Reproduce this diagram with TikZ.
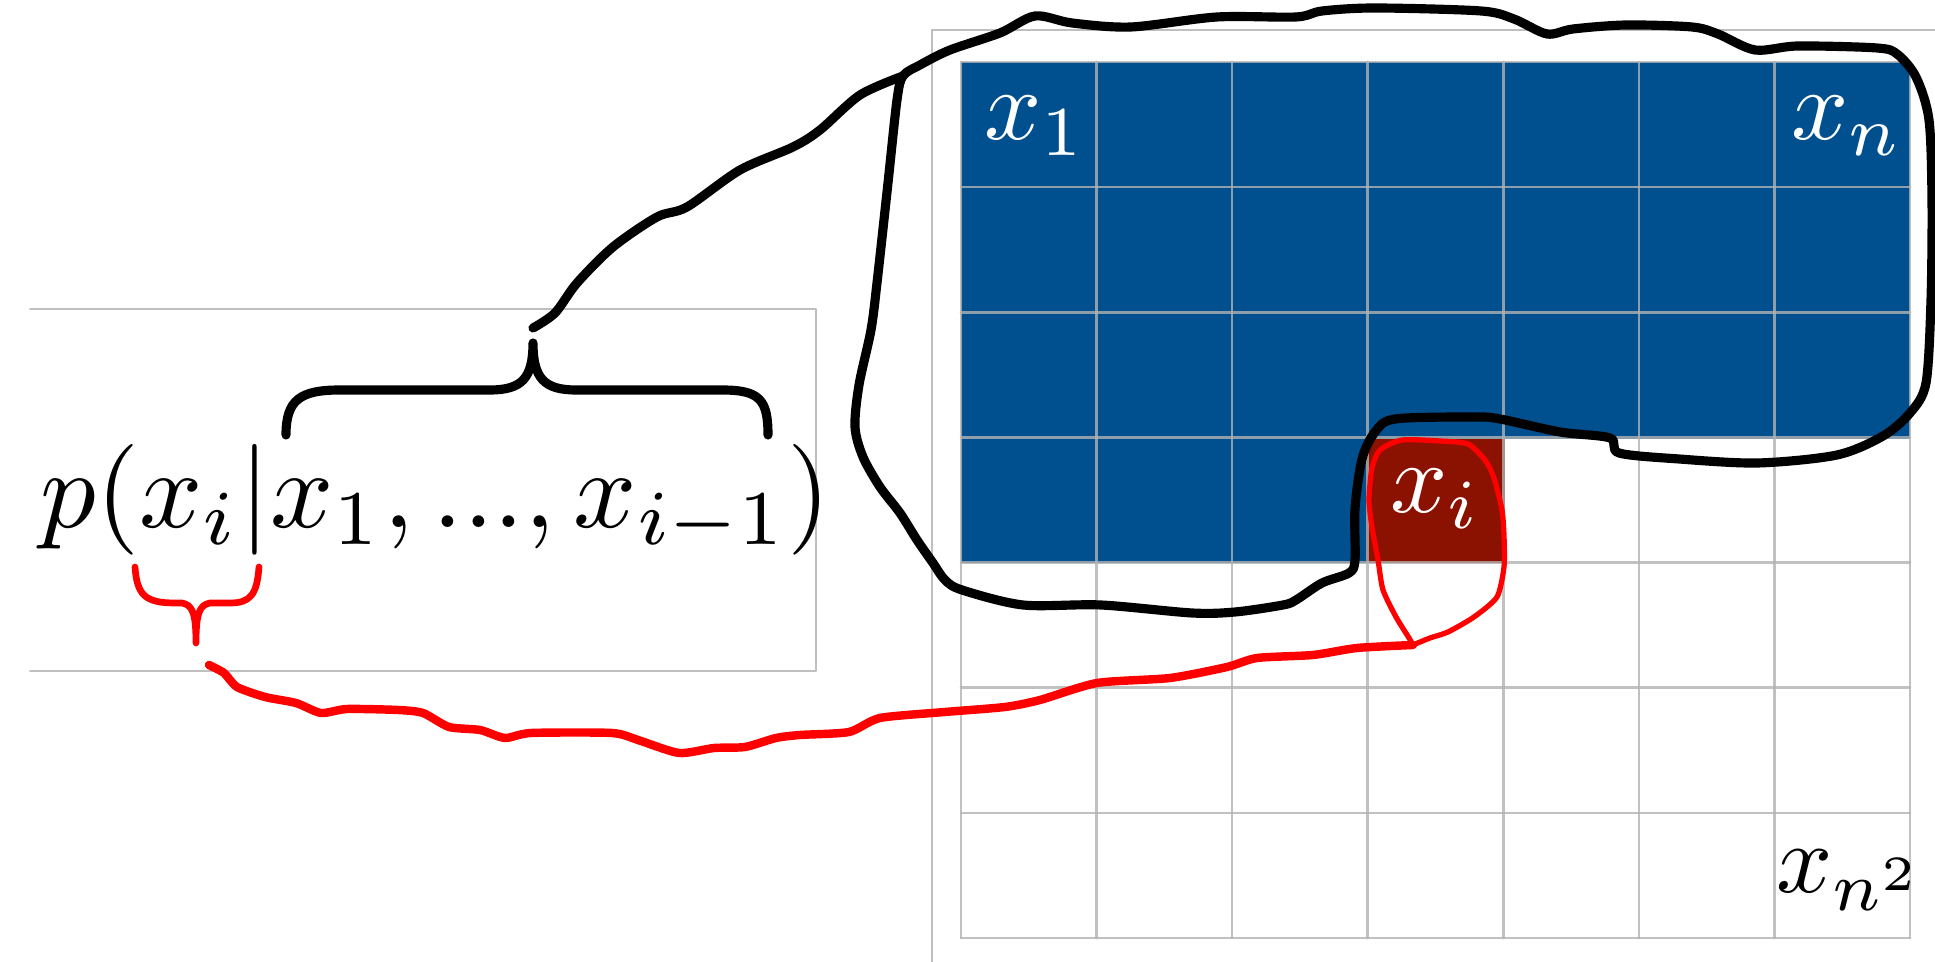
\documentclass[tikz,border=0pt]{standalone}
\usepackage{amsmath,amssymb}
\usepackage{xcolor}
\usetikzlibrary{positioning,calc}
\definecolor{cellblue}{RGB}{0,80,143}
\definecolor{cellred}{RGB}{139,17,0}
\definecolor{sketchred}{RGB}{255,0,0}

\begin{document}
\begin{tikzpicture}[x=0.01cm,y=-0.01cm,line join=round,line cap=round,
  frame/.style={draw=black!25,line width=0.45pt},
  gridline/.style={draw=black!30,opacity=.8,line width=0.75pt},
  pen/.style={draw=black,line width=2.6pt},
  redpen/.style={draw=sketchred,line width=2.4pt},
  thinpen/.style={draw=sketchred,line width=1.5pt},
  big/.style={inner sep=0pt},
  lbl/.style={inner sep=0pt,text=white}]
\useasboundingbox (0,0) rectangle (1935,962);
\draw[frame] (30,309) -- (816,309) -- (816,671) -- (30,671);
\draw[frame] (932,962) -- (932,30) -- (1935,30);
\fill[cellblue] (961,62) rectangle (1910,439);
\fill[cellblue] (961,439) rectangle (1367,563);
\fill[cellred] (1367,439) rectangle (1505,563);
\foreach \c in {0,...,7}
  \draw[gridline] ({961+135.57*\c},62) -- ({961+135.57*\c},938);
\foreach \r in {0,...,7}
  \draw[gridline] (961,{62+125.14*\r}) -- (1910,{62+125.14*\r});
\node[lbl,anchor=base west] (x1) at (984,140) {\scalebox{2.85}{$x_1$}};
\node[lbl,anchor=base west] (xn) at (1791,140) {\scalebox{2.85}{$x_n$}};
\node[lbl,anchor=base west] (xi) at (1390,513) {\scalebox{2.85}{$x_i$}};
\node[lbl,anchor=base west,text=black] (xnn) at (1776,893) {\scalebox{2.8}{$x_{n^2}$}};
\node[big,anchor=base west] (prob) at (40,528) {\scalebox{3.15}{$p(x_i|x_1,...,x_{i-1})$}};
\coordinate (ctip) at (533,343);
\coordinate (ctail) at (533,328);
\coordinate (loopjoin) at (903,76);
\coordinate (rtip) at (196,643);
\coordinate (rtail) at (209,665);
\coordinate (xiv) at (1413,645);
\draw[pen] (286,435) .. controls (286,400) and (300,390) .. (340,390) -- (490,390)
  .. controls (522,390) and (533,378) .. (ctip)
  .. controls (533,378) and (544,390) .. (576,390) -- (722,390)
  .. controls (760,390) and (768,400) .. (768,435);
\draw[pen] plot[smooth,tension=.5] coordinates {(ctail) (555,313) (577,283) (613,247)
  (657,217) (687,207) (740,170) (793,147) (820,130) (860,95) (loopjoin)};
\draw[pen] plot[smooth cycle,tension=.5] coordinates {(loopjoin) (920,65) (950,50)
  (1000,33) (1035,16) (1072,23) (1131,27) (1217,17) (1296,17) (1322,11) (1375,8)
  (1481,11) (1514,19) (1547,34) (1573,29) (1626,25) (1692,27) (1718,34) (1755,50)
  (1798,46) (1877,48) (1897,54) (1916,77) (1929,120) (1932,200) (1931,300)
  (1926,383) (1910,413) (1883,436) (1837,455) (1758,463) (1679,459) (1619,453)
  (1610,438) (1560,432) (1500,419) (1474,417) (1395,419) (1375,432) (1362,459)
  (1355,509) (1355,560) (1349,573) (1322,583) (1296,600) (1283,605) (1235,612)
  (1192,613) (1101,605) (1023,605) (962,590) (945,580) (933,563) (917,540)
  (900,513) (880,487) (863,457) (855,427) (859,385) (871,330) (877,283)
  (888,183) (897,100)};
\draw[redpen,line width=1.9pt] (135,567) .. controls (137,595) and (145,603) .. (175,603) -- (182,603)
  .. controls (192,605) and (196,612) .. (rtip)
  .. controls (196,612) and (200,605) .. (210,603) -- (230,603)
  .. controls (250,603) and (257,595) .. (259,567);
\draw[redpen] plot[smooth,tension=.4] coordinates {(rtail) (224,673) (237,687)
  (265,697) (296,703) (321,713) (347,709) (398,710) (423,713) (449,727) (480,730)
  (505,738) (531,733) (612,733) (638,740) (679,753) (714,748) (745,747) (776,738)
  (800,735) (849,732) (880,718) (945,712) (1005,707) (1040,700) (1097,683)
  (1170,678) (1227,667) (1257,658) (1313,655) (1357,648) (xiv)};
\draw[thinpen] plot[smooth,tension=.4] coordinates {(xiv) (1409,638) (1396,617)
  (1383,590) (1378,560) (1372,527) (1369,500) (1372,468) (1380,450) (1402,440)
  (1440,441) (1468,444) (1485,460) (1494,478) (1502,510) (1504,536) (1504,567)
  (1497,597) (1474,617) (1448,632) (1430,638) (xiv)};
\end{tikzpicture}
\end{document}
